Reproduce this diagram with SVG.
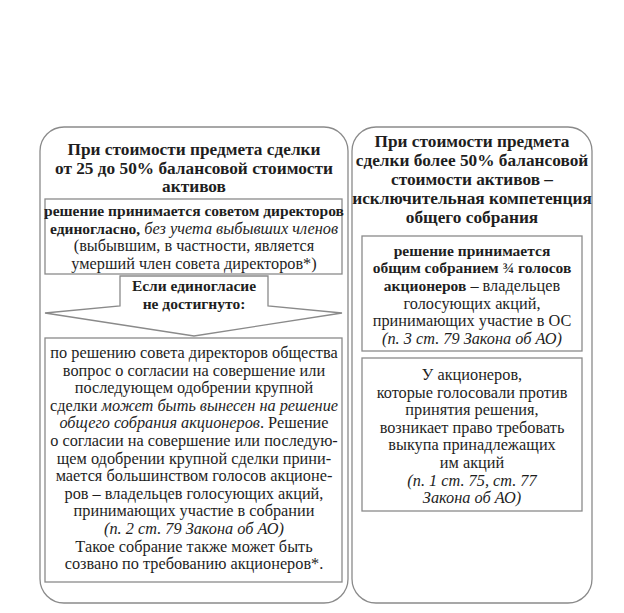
<svg xmlns="http://www.w3.org/2000/svg" width="624" height="613" viewBox="0 0 624 613">
<defs>
<style>
.panel{fill:#fff;stroke:#8a8a8a;stroke-width:1.3}
.box{fill:#fff;stroke:#8a8a8a;stroke-width:1.3}
</style>
</defs>
<rect width="624" height="613" fill="#fff"/>
<g id="left-panel">
<rect class="panel" x="40" y="127" width="308" height="476" rx="24"/>
<text font-family="Liberation Serif" font-size="17.3" font-weight="bold" fill="#1e1e1e" text-anchor="middle" x="194" y="155">При стоимости предмета сделки</text>
<text font-family="Liberation Serif" font-size="17.3" font-weight="bold" fill="#1e1e1e" text-anchor="middle" x="194" y="174">от 25 до 50% балансовой стоимости</text>
<text font-family="Liberation Serif" font-size="17.3" font-weight="bold" fill="#1e1e1e" text-anchor="middle" x="194" y="192">активов</text>
</g>
<g id="board-decision">
<rect class="box" x="45" y="199" width="297" height="75"/>
<text font-family="Liberation Serif" font-size="15.5" font-weight="bold" fill="#1e1e1e" text-anchor="middle" x="194" y="216">решение принимается советом директоров</text>
<text font-family="Liberation Serif" font-size="16.3" fill="#1e1e1e" text-anchor="middle" x="194" y="233.6"><tspan font-weight="bold" font-size="15.5">единогласно,</tspan> <tspan font-style="italic">без учета выбывших членов</tspan></text>
<text font-family="Liberation Serif" font-size="16.3" fill="#1e1e1e" text-anchor="middle" x="194" y="251.2">(выбывшим, в частности, является</text>
<text font-family="Liberation Serif" font-size="16.3" fill="#1e1e1e" text-anchor="middle" x="194" y="268.8">умерший член совета директоров*)</text>
</g>
<g id="no-unanimity">
<path class="box" d="M120,276 H268 V306 L342,313 L194,336 L45,313 L120,306 Z"/>
<text font-family="Liberation Serif" font-size="15.5" font-weight="bold" fill="#1e1e1e" text-anchor="middle" x="194" y="291">Если единогласие</text>
<text font-family="Liberation Serif" font-size="15.5" font-weight="bold" fill="#1e1e1e" text-anchor="middle" x="194" y="309">не достигнуто:</text>
</g>
<g id="general-meeting">
<rect class="box" x="45" y="338" width="297" height="244"/>
<text font-family="Liberation Serif" font-size="16.3" fill="#1e1e1e" text-anchor="middle" x="194" y="358">по решению совета директоров общества</text>
<text font-family="Liberation Serif" font-size="16.3" fill="#1e1e1e" text-anchor="middle" x="194" y="375.6">вопрос о согласии на совершение или</text>
<text font-family="Liberation Serif" font-size="16.3" fill="#1e1e1e" text-anchor="middle" x="194" y="393.2">последующем одобрении крупной</text>
<text font-family="Liberation Serif" font-size="16.3" fill="#1e1e1e" text-anchor="middle" x="194" y="410.8">сделки <tspan font-style="italic">может быть вынесен на решение</tspan></text>
<text font-family="Liberation Serif" font-size="16.3" fill="#1e1e1e" text-anchor="middle" x="194" y="428.4"><tspan font-style="italic">общего собрания акционеров</tspan>. Решение</text>
<text font-family="Liberation Serif" font-size="16.3" fill="#1e1e1e" text-anchor="middle" x="194" y="446">о согласии на совершение или последую-</text>
<text font-family="Liberation Serif" font-size="16.3" fill="#1e1e1e" text-anchor="middle" x="194" y="463.6">щем одобрении крупной сделки прини-</text>
<text font-family="Liberation Serif" font-size="16.3" fill="#1e1e1e" text-anchor="middle" x="194" y="481.2">мается большинством голосов акционе-</text>
<text font-family="Liberation Serif" font-size="16.3" fill="#1e1e1e" text-anchor="middle" x="194" y="498.8">ров – владельцев голосующих акций,</text>
<text font-family="Liberation Serif" font-size="16.3" fill="#1e1e1e" text-anchor="middle" x="194" y="516.4">принимающих участие в собрании</text>
<text font-family="Liberation Serif" font-size="16.3" font-style="italic" fill="#1e1e1e" text-anchor="middle" x="194" y="534">(п. 2 ст. 79 Закона об АО)</text>
<text font-family="Liberation Serif" font-size="16.3" fill="#1e1e1e" text-anchor="middle" x="194" y="551.6">Такое собрание также может быть</text>
<text font-family="Liberation Serif" font-size="16.3" fill="#1e1e1e" text-anchor="middle" x="194" y="569.2">созвано по требованию акционеров*.</text>
</g>
<g id="right-panel">
<rect class="panel" x="352" y="127" width="240" height="476" rx="24"/>
<text font-family="Liberation Serif" font-size="17.3" font-weight="bold" fill="#1e1e1e" text-anchor="middle" x="472" y="147">При стоимости предмета</text>
<text font-family="Liberation Serif" font-size="17.3" font-weight="bold" fill="#1e1e1e" text-anchor="middle" x="472" y="166">сделки более 50% балансовой</text>
<text font-family="Liberation Serif" font-size="17.3" font-weight="bold" fill="#1e1e1e" text-anchor="middle" x="472" y="185">стоимости активов –</text>
<text font-family="Liberation Serif" font-size="17.3" font-weight="bold" fill="#1e1e1e" text-anchor="middle" x="472" y="204">исключительная компетенция</text>
<text font-family="Liberation Serif" font-size="17.3" font-weight="bold" fill="#1e1e1e" text-anchor="middle" x="472" y="223">общего собрания</text>
</g>
<g id="meeting-decision">
<rect class="box" x="362" y="236" width="220" height="115"/>
<text font-family="Liberation Serif" font-size="15.5" font-weight="bold" fill="#1e1e1e" text-anchor="middle" x="472" y="256">решение принимается</text>
<text font-family="Liberation Serif" font-size="15.5" font-weight="bold" fill="#1e1e1e" text-anchor="middle" x="472" y="273">общим собранием ¾ голосов</text>
<text font-family="Liberation Serif" font-size="16.3" fill="#1e1e1e" text-anchor="middle" x="472" y="291"><tspan font-weight="bold" font-size="15.5">акционеров</tspan> – владельцев</text>
<text font-family="Liberation Serif" font-size="16.3" fill="#1e1e1e" text-anchor="middle" x="472" y="308.6">голосующих акций,</text>
<text font-family="Liberation Serif" font-size="16.3" fill="#1e1e1e" text-anchor="middle" x="472" y="326.2">принимающих участие в ОС</text>
<text font-family="Liberation Serif" font-size="16.3" font-style="italic" fill="#1e1e1e" text-anchor="middle" x="472" y="343.8">(п. 3 ст. 79 Закона об АО)</text>
</g>
<g id="buyout-right">
<rect class="box" x="362" y="358" width="220" height="153"/>
<text font-family="Liberation Serif" font-size="16.3" fill="#1e1e1e" text-anchor="middle" x="472" y="380">У акционеров,</text>
<text font-family="Liberation Serif" font-size="16.3" fill="#1e1e1e" text-anchor="middle" x="472" y="397.6">которые голосовали против</text>
<text font-family="Liberation Serif" font-size="16.3" fill="#1e1e1e" text-anchor="middle" x="472" y="415.2">принятия решения,</text>
<text font-family="Liberation Serif" font-size="16.3" fill="#1e1e1e" text-anchor="middle" x="472" y="432.8">возникает право требовать</text>
<text font-family="Liberation Serif" font-size="16.3" fill="#1e1e1e" text-anchor="middle" x="472" y="450.4">выкупа принадлежащих</text>
<text font-family="Liberation Serif" font-size="16.3" fill="#1e1e1e" text-anchor="middle" x="472" y="468">им акций</text>
<text font-family="Liberation Serif" font-size="16.3" font-style="italic" fill="#1e1e1e" text-anchor="middle" x="472" y="485.6">(п. 1 ст. 75, ст. 77</text>
<text font-family="Liberation Serif" font-size="16.3" font-style="italic" fill="#1e1e1e" text-anchor="middle" x="472" y="503.2">Закона об АО)</text>
</g>
<g id="connectors"/>
</svg>
